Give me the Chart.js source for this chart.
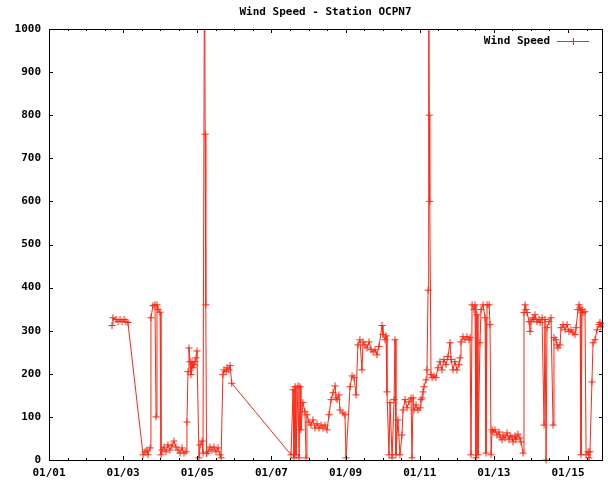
<!DOCTYPE html>
<html>
<head>
<meta charset="utf-8">
<title>Wind Speed - Station OCPN7</title>
<script src="https://cdn.jsdelivr.net/npm/chart.js@4.4.0/dist/chart.umd.min.js"></script>
<style>
  html, body { margin: 0; padding: 0; background: #fff; }
  #windChart { display: block; }
</style>
</head>
<body>
<canvas id="windChart" width="608" height="484"></canvas>
<script>
// Hours since 01/01 00:00 for each reading
const hours = [
    40.8, 41.4, 43.4, 44.7, 46.0, 47.3, 48.6, 49.8, 51.1,
    60.9, 62.2, 63.4, 64.1, 65.4, 66.0, 67.3, 68.6, 69.3, 69.9, 70.6, 71.9, 72.5,
    73.2, 74.5, 75.7, 77.0, 78.3, 79.6, 80.9, 82.2, 83.5, 84.8, 86.1, 87.4, 88.7,
    89.3, 90.0, 90.6, 91.3, 91.9, 92.6, 93.2, 93.9, 94.5, 95.2, 95.8,
    97.1, 97.8, 99.1, 99.7, 100.7, 101.1, 101.5, 102.0,
    102.9, 104.2, 105.5, 106.8, 108.1, 109.4, 110.7, 111.4,
    112.6, 113.3, 114.6, 115.2, 116.5, 117.2, 118.3,
    156.7, 158.0, 158.6, 159.3, 159.9, 161.2, 161.9, 162.5, 163.1,
    164.4, 165.7, 166.4, 167.0, 168.3, 169.6, 170.9, 172.2, 173.5, 174.8, 176.1, 177.4, 178.7, 180.0,
    181.3, 182.6, 183.9, 185.2, 185.8, 186.5, 187.7, 188.4, 190.3, 191.6, 192.3,
    194.9, 196.2, 197.5, 198.8, 200.0, 201.3, 202.6, 203.3, 204.6, 205.9, 207.2, 208.5, 209.8,
    211.1, 212.3, 213.6, 215.6, 216.2, 217.5, 218.2, 218.8,
    220.1, 220.8, 222.1, 223.4, 224.0, 224.6, 225.9, 227.2,
    228.5, 229.2, 230.5, 231.8, 233.1, 234.4, 235.0, 235.7, 236.3, 237.6, 238.9, 240.2, 240.8,
    241.5, 242.1, 242.8, 244.1, 244.7, 245.4, 245.8, 246.2, 246.5, 247.3,
    248.0, 249.2, 250.5, 251.8, 253.1, 254.4, 255.7, 257.0, 258.3, 259.6, 260.3, 261.5, 262.8,
    264.1, 265.4, 266.1, 266.7, 268.0, 269.3, 270.6, 271.9, 272.6,
    273.2, 273.9, 275.1, 275.8, 276.4, 277.1, 277.7, 279.0, 279.7, 281.0, 282.3, 282.9,
    283.6, 284.9, 285.5, 286.2,
    286.8, 287.4, 288.7, 290.0, 291.3, 292.0, 293.3, 293.9, 295.2, 296.5, 297.8, 298.5,
    299.7, 300.4, 301.7, 302.3, 303.6, 304.9, 305.6, 306.9,
    307.5, 308.2, 308.8, 309.5, 310.8, 311.4, 312.0, 313.3, 314.0, 314.6, 315.9, 317.2, 317.9,
    319.2, 320.5, 321.1, 321.8, 322.4, 323.7, 325.0, 326.3,
    326.9, 328.2, 328.9, 329.5, 330.8, 331.5, 332.8, 334.1, 335.4, 336.6, 337.9, 339.2, 340.5, 341.2,
    342.5, 343.1, 343.8, 344.4, 345.1, 345.7, 347.0, 347.7, 349.0, 349.6, 350.2,
    351.5, 352.2, 353.5, 354.8, 356.1, 356.7, 357.3, 358.0
];

// Wind speed readings (same order as hours)
const windSpeed = [
    312, 330, 326, 321, 326, 321, 326, 321, 319,
    12, 19, 23, 12, 28, 330, 358, 360, 100, 360, 349, 343, 12,
    23, 30, 19, 35, 23, 33, 44, 30, 23, 16, 28, 16, 19,
    88, 205, 260, 228, 198, 228, 214, 221, 228, 237, 253,
    5, 35, 44, 16, 1250, 756, 360, 15,
    19, 30, 23, 30, 19, 28, 12, 5,
    198, 209, 205, 214, 209, 219, 178,
    12, 163, 5, 170, 12, 172, 5, 170, 70,
    133, 112, 5, 105, 88, 81, 93, 74, 84, 74, 81, 74, 81, 70,
    105, 140, 156, 172, 144, 140, 151, 116, 109, 105, 5,
    170, 195, 191, 151, 267, 279, 209, 274, 267, 260, 274, 256, 251,
    256, 244, 263, 312, 291, 279, 288, 158,
    12, 133, 5, 140, 279, 12, 93, 12,
    58, 116, 140, 121, 135, 144, 5, 144, 116, 128, 116, 121, 140,
    144, 158, 170, 186, 209, 394, 1250, 800, 600, 198,
    191, 195, 191, 214, 228, 209, 233, 221, 240, 272, 233, 209, 228,
    209, 221, 237, 274, 286, 279, 286, 279, 284,
    12, 360, 349, 360, 5, 337, 12, 272, 349, 360, 330, 16,
    360, 360, 314, 12,
    70, 65, 70, 58, 65, 53, 47, 58, 51, 63, 47, 56,
    53, 42, 56, 47, 60, 51, 42, 16,
    342, 360, 349, 342, 321, 298, 321, 330, 326, 337, 321, 326, 319,
    330, 81, 326, 0, 307, 321, 330, 81,
    284, 279, 267, 260, 267, 307, 314, 302, 314, 298, 302, 295, 291, 307,
    349, 360, 353, 12, 349, 342, 344, 12, 19, 5, 19,
    181, 272, 279, 302, 314, 319, 309, 316
];

const dateLabels = ['01/01', '01/03', '01/05', '01/07', '01/09', '01/11', '01/13', '01/15']; // one label every 48 h
const chartTitle = 'Wind Speed - Station OCPN7';
const seriesName = 'Wind Speed';

const lineColor = 'rgb(255, 40, 20)';
const monoFont = '"DejaVu Sans Mono", "Liberation Mono", monospace';

// gnuplot style frame: box, inward ticks on all four sides, title and legend
const gnuplotFrame = {
    id: 'gnuplotFrame',
    afterDatasetsDraw(chart) {
        const { ctx, chartArea: a, scales: { x, y } } = chart;
        ctx.save();
        ctx.strokeStyle = '#000';
        ctx.lineWidth = 1;
        ctx.strokeRect(a.left + 0.5, a.top + 0.5, a.right - a.left, a.bottom - a.top);

        ctx.beginPath();
        x.ticks.forEach(t => {
            const px = Math.round(x.getPixelForValue(t.value)) + 0.5;
            const len = t.value % 48 === 0 ? 4 : 2;
            ctx.moveTo(px, a.bottom); ctx.lineTo(px, a.bottom - len);
            ctx.moveTo(px, a.top); ctx.lineTo(px, a.top + len);
        });
        y.ticks.forEach(t => {
            const py = Math.round(y.getPixelForValue(t.value)) + 0.5;
            ctx.moveTo(a.left, py); ctx.lineTo(a.left + 4, py);
            ctx.moveTo(a.right + 1, py); ctx.lineTo(a.right - 3, py);
        });
        ctx.stroke();

        ctx.fillStyle = '#000';
        ctx.font = 'bold 11px ' + monoFont;
        ctx.textBaseline = 'middle';
        ctx.textAlign = 'center';
        ctx.fillText(chartTitle, (a.left + a.right) / 2, 12);

        // legend: text then line sample with a cross
        const ly = a.top + 12;
        ctx.textAlign = 'right';
        ctx.fillText(seriesName, a.right - 52, ly);
        ctx.strokeStyle = lineColor;
        ctx.beginPath();
        ctx.moveTo(a.right - 45, ly + 0.5); ctx.lineTo(a.right - 13, ly + 0.5);
        ctx.moveTo(a.right - 28.5, ly - 3); ctx.lineTo(a.right - 28.5, ly + 4);
        ctx.stroke();
        ctx.restore();
    }
};

const ctx = document.getElementById('windChart').getContext('2d');
new Chart(ctx, {
    type: 'line',
    data: {
        datasets: [{
            label: seriesName,
            data: hours.map((h, i) => ({ x: h, y: windSpeed[i] })),
            borderColor: lineColor,
            borderWidth: 1,
            tension: 0,
            pointStyle: 'cross',
            pointRadius: 3.5,
            pointBorderWidth: 1,
            pointBorderColor: lineColor,
            pointBackgroundColor: lineColor,
            clip: { left: 2, top: 0, right: 2, bottom: 4 }
        }]
    },
    options: {
        responsive: false,
        animation: false,
        devicePixelRatio: 1,
        events: [],
        layout: { padding: { top: 29, right: 6, bottom: 0, left: 0 } },
        scales: {
            x: {
                type: 'linear',
                min: 0,
                max: 358,
                afterBuildTicks: (scale) => {
                    const ticks = [];
                    for (let h = 0; h <= scale.max; h += 12) ticks.push({ value: h });
                    scale.ticks = ticks;
                },
                afterFit: (scale) => { scale.height = 24; },
                grid: { display: false, drawTicks: false },
                border: { display: false },
                ticks: {
                    autoSkip: false,
                    maxRotation: 0,
                    padding: 7,
                    color: '#000',
                    font: { family: monoFont, size: 11, weight: 'bold' },
                    callback: (value) => value % 48 === 0 ? dateLabels[value / 48] : ''
                }
            },
            y: {
                min: 0,
                max: 1000,
                afterFit: (scale) => { scale.width = 49; },
                grid: { display: false, drawTicks: false },
                border: { display: false },
                ticks: {
                    stepSize: 100,
                    padding: 8,
                    color: '#000',
                    font: { family: monoFont, size: 11, weight: 'bold' },
                    callback: (value) => String(value) // no thousands separator
                }
            }
        },
        plugins: {
            legend: { display: false },
            title: { display: false },
            tooltip: { enabled: false }
        }
    },
    plugins: [gnuplotFrame]
});
</script>
</body>
</html>
